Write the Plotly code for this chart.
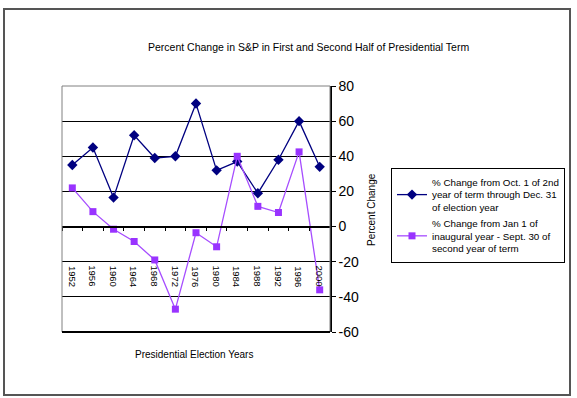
import plotly.graph_objects as go

years = ["1952", "1956", "1960", "1964", "1968", "1972", "1976",
         "1980", "1984", "1988", "1992", "1996", "2000"]
second_half = [35, 45, 16.5, 52, 39, 40, 70, 32, 37, 19, 38, 60, 34]
first_half = [22, 8.5, -1.5, -8.5, -19, -47, -3.5, -11.5, 40, 11.5, 8, 42.5, -36]
y_ticks = [-60, -40, -20, 0, 20, 40, 60, 80]
y_ticktext = [str(v) for v in y_ticks]

name1 = "% Change from Oct. 1 of 2nd<br>year of term through Dec. 31<br>of election year"
name2 = "% Change from Jan 1 of<br>inaugural year - Sept. 30 of<br>second year of term"

W, H = 577, 398
L, R, T, B = 62, 330, 86, 332


def px(x):
    return (x - L) / (R - L)


def py(y):
    return (B - y) / (B - T)


FONT = "Liberation Sans, Arial, sans-serif"

fig = go.Figure()
fig.add_trace(go.Scatter(
    x=years, y=second_half, name=name1, mode="lines+markers",
    line=dict(color="#000080", width=1.3),
    marker=dict(symbol="diamond", size=8, color="#000080"),
))
fig.add_trace(go.Scatter(
    x=years, y=first_half, name=name2, mode="lines+markers",
    line=dict(color="#A64DFF", width=1.3),
    marker=dict(symbol="square", size=7, color="#9933FF"),
))

annotations = [
    dict(text="Percent Change in S&P in First and Second Half of Presidential Term",
         x=px(308), y=py(47), xref="paper", yref="paper", showarrow=False,
         xanchor="center", yanchor="middle",
         font=dict(size=10.5, color="black", family=FONT)),
    dict(text="Presidential Election Years",
         x=px(194), y=py(354), xref="paper", yref="paper", showarrow=False,
         xanchor="center", yanchor="middle",
         font=dict(size=10, color="black", family=FONT)),
    dict(text="Percent Change", textangle=-90,
         x=px(371), y=py(210), xref="paper", yref="paper", showarrow=False,
         xanchor="center", yanchor="middle",
         font=dict(size=10, color="black", family=FONT)),
]
for i, yr in enumerate(years):
    annotations.append(dict(text=yr, x=i, y=-20, xref="x", yref="y",
                            textangle=90, xanchor="center", yanchor="top",
                            showarrow=False, yshift=-2,
                            font=dict(size=9.5, color="black", family=FONT)))

shapes = [
    # plot area frame
    dict(type="rect", xref="x domain", yref="y domain", x0=0, x1=1, y0=0, y1=1,
         line=dict(color="#808080", width=1)),
    dict(type="line", xref="x domain", yref="y domain", x0=0, x1=1, y0=0, y1=0,
         line=dict(color="black", width=2)),
    # outer chart border
    dict(type="rect", xref="paper", yref="paper", x0=px(4), x1=px(570),
         y0=py(395), y1=py(9), line=dict(color="#555555", width=2)),
]

fig.update_layout(
    width=W, height=H,
    margin=dict(l=L, r=W - R, t=T, b=H - B, autoexpand=False),
    paper_bgcolor="white", plot_bgcolor="white",
    font=dict(family=FONT, color="black"),
    showlegend=True,
    legend=dict(x=px(391), y=py(168), xanchor="left", yanchor="top",
                bordercolor="black", borderwidth=1, bgcolor="white",
                font=dict(size=9.8, family=FONT, color="black"),
                tracegroupgap=0, itemwidth=30),
    xaxis=dict(type="category", categoryarray=years, anchor="free",
               position=(0 - y_ticks[0]) / (y_ticks[-1] - y_ticks[0]),
               showline=True, linecolor="black", linewidth=1.5,
               ticks="outside", tickson="boundaries", ticklen=4,
               tickcolor="black", showticklabels=False, showgrid=False,
               range=[-0.5, len(years) - 0.5], automargin=False),
    yaxis=dict(side="right", range=[y_ticks[0], y_ticks[-1]],
               tickvals=y_ticks, ticktext=y_ticktext,
               showgrid=True, gridcolor="black", gridwidth=1.3,
               zeroline=False, showline=True, linecolor="black", linewidth=1.5,
               ticks="outside", ticklen=4, tickcolor="black", automargin=False,
               tickfont=dict(size=14, family=FONT, color="black")),
    annotations=annotations,
    shapes=shapes,
)

fig.write_html("out.html",
               config={"displayModeBar": False},
               post_script="document.body.style.margin='0';document.body.style.padding='0';")
